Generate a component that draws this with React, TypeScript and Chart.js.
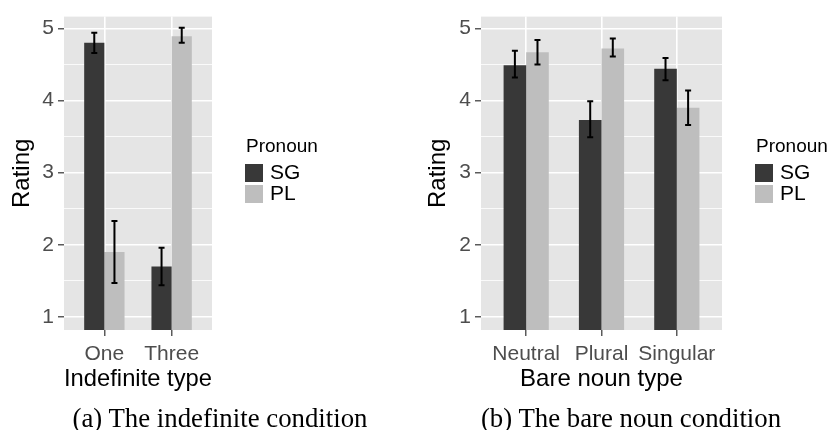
import React, { useEffect, useRef } from 'react';
import { Chart, registerables } from 'chart.js';

Chart.register(...registerables);

// ---- data ----
const pronouns = ['SG', 'PL'];

const indefCategories = ['One', 'Three'];
const indefSG = [4.8, 1.7];
const indefPL = [1.9, 4.89];
const indefSGLo = [4.66, 1.44];
const indefSGHi = [4.94, 1.96];
const indefPLLo = [1.47, 4.8];
const indefPLHi = [2.33, 5.01];

const bareCategories = ['Neutral', 'Plural', 'Singular'];
const bareSG = [4.49, 3.73, 4.44];
const barePL = [4.67, 4.72, 3.9];
const bareSGLo = [4.32, 3.49, 4.28];
const bareSGHi = [4.69, 3.99, 4.59];
const barePLLo = [4.5, 4.61, 3.66];
const barePLHi = [4.84, 4.86, 4.14];

const yTickValues = [1, 1.5, 2, 2.5, 3, 3.5, 4, 4.5, 5];
const yMin = 0.818;
const yMax = 5.164;

const SANS = "'Liberation Sans', Arial, sans-serif";
const SERIF = "'Liberation Serif', 'Times New Roman', serif";
const SG_COLOR = '#383838';
const PL_COLOR = '#bebebe';

const panelBg = {
  id: 'panelBg',
  beforeDraw(chart: any) {
    const { ctx, chartArea } = chart;
    ctx.save();
    ctx.fillStyle = '#e5e5e5';
    ctx.fillRect(chartArea.left, chartArea.top, chartArea.right - chartArea.left, chartArea.bottom - chartArea.top);
    ctx.restore();
  },
};

const errorBars = {
  id: 'errorBars',
  afterDatasetsDraw(chart: any) {
    const { ctx } = chart;
    const yScale = chart.scales.y;
    ctx.save();
    ctx.strokeStyle = '#000';
    ctx.lineWidth = 2;
    chart.data.datasets.forEach((ds: any, i: number) => {
      const meta = chart.getDatasetMeta(i);
      meta.data.forEach((bar: any, j: number) => {
        const x = bar.x;
        const yLo = yScale.getPixelForValue(ds.errLo[j]);
        const yHi = yScale.getPixelForValue(ds.errHi[j]);
        const w = 3;
        ctx.beginPath();
        ctx.moveTo(x, yLo);
        ctx.lineTo(x, yHi);
        ctx.moveTo(x - w, yLo);
        ctx.lineTo(x + w, yLo);
        ctx.moveTo(x - w, yHi);
        ctx.lineTo(x + w, yHi);
        ctx.stroke();
      });
    });
    ctx.restore();
  },
};

const pronounLegend = {
  id: 'pronounLegend',
  afterDraw(chart: any, _args: any, opts: any) {
    const { ctx, chartArea } = chart;
    const x0 = chartArea.right + 33;
    ctx.save();
    ctx.fillStyle = '#000';
    ctx.textAlign = 'left';
    ctx.textBaseline = 'alphabetic';
    ctx.font = `19px ${SANS}`;
    ctx.fillText(opts.title, x0 + 1, 152);
    chart.data.datasets.forEach((ds: any, i: number) => {
      const y = 164 + i * 21;
      ctx.fillStyle = ds.backgroundColor;
      ctx.fillRect(x0, y, 18, 18);
      ctx.fillStyle = '#000';
      ctx.font = `21px ${SANS}`;
      ctx.textBaseline = 'middle';
      ctx.fillText(ds.label, x0 + 25, y + 9.5);
    });
    ctx.restore();
  },
};

type PanelProps = {
  categories: string[];
  sg: number[];
  pl: number[];
  sgLo: number[];
  sgHi: number[];
  plLo: number[];
  plHi: number[];
  xTitle: string;
  width: number;
  padLeft: number;
  padRight: number;
  yAxisWidth: number;
  left: number;
};

function Panel(p: PanelProps) {
  const ref = useRef<HTMLCanvasElement | null>(null);
  useEffect(() => {
    if (!ref.current) return;
    const n = p.categories.length;
    const chart = new Chart(ref.current, {
      type: 'bar',
      data: {
        datasets: [
          {
            label: pronouns[0],
            data: p.sg.map((v, i) => ({ x: i + 1, y: v })),
            backgroundColor: SG_COLOR,
            errLo: p.sgLo,
            errHi: p.sgHi,
          } as any,
          {
            label: pronouns[1],
            data: p.pl.map((v, i) => ({ x: i + 1, y: v })),
            backgroundColor: PL_COLOR,
            errLo: p.plLo,
            errHi: p.plHi,
          } as any,
        ],
      },
      options: {
        responsive: false,
        animation: false,
        events: [],
        categoryPercentage: 0.6,
        barPercentage: 1.0,
        layout: { padding: { top: 12, left: p.padLeft, right: p.padRight, bottom: 0 } },
        plugins: {
          legend: { display: false },
          tooltip: { enabled: false },
          pronounLegend: { title: 'Pronoun' },
        } as any,
        scales: {
          x: {
            type: 'linear',
            min: 0.4,
            max: n + 0.6,
            offset: false,
            afterBuildTicks: (scale: any) => {
              scale.ticks = p.categories.map((_, i) => ({ value: i + 1 }));
            },
            afterFit: (scale: any) => {
              scale.height = 100;
            },
            grid: {
              offset: false,
              color: '#ffffff',
              lineWidth: 1.6,
              drawTicks: true,
              tickLength: 6,
              tickColor: '#333333',
              tickWidth: 1.2,
            },
            border: { display: false },
            ticks: {
              autoSkip: false,
              maxRotation: 0,
              padding: 6,
              color: '#4d4d4d',
              font: { family: SANS, size: 21 },
              callback: (v: any) => p.categories[Math.round(Number(v)) - 1] ?? '',
            },
            title: {
              display: true,
              text: p.xTitle,
              color: '#000',
              font: { family: SANS, size: 24 },
              padding: { top: 0, bottom: 36 },
            },
          },
          y: {
            type: 'linear',
            min: yMin,
            max: yMax,
            afterBuildTicks: (scale: any) => {
              scale.ticks = yTickValues.map((v) => ({ value: v }));
            },
            afterFit: (scale: any) => {
              scale.width = p.yAxisWidth;
            },
            grid: {
              color: '#ffffff',
              lineWidth: (c: any) => (Number.isInteger(c.tick?.value) ? 1.6 : 0.8),
              drawTicks: true,
              tickLength: 6,
              tickWidth: 1.2,
              tickColor: (c: any) => (Number.isInteger(c.tick?.value) ? '#333333' : 'rgba(0,0,0,0)'),
            },
            border: { display: false },
            ticks: {
              autoSkip: false,
              padding: 4,
              color: '#4d4d4d',
              font: { family: SANS, size: 21 },
              callback: (v: any) => (Number.isInteger(Number(v)) ? String(v) : ''),
            },
            title: {
              display: true,
              text: 'Rating',
              color: '#000',
              font: { family: SANS, size: 24 },
              padding: { top: 8, bottom: 0 },
            },
          },
        },
      } as any,
      plugins: [panelBg, errorBars, pronounLegend],
    });
    return () => chart.destroy();
  }, []);
  return (
    <canvas
      ref={ref}
      width={p.width}
      height={430}
      style={{ position: 'absolute', left: p.left, top: 0, width: p.width, height: 430 }}
    />
  );
}

const captionStyle: React.CSSProperties = {
  position: 'absolute',
  top: 403,
  height: 30,
  lineHeight: '30px',
  width: 400,
  textAlign: 'center',
  fontFamily: SERIF,
  fontSize: 26.8,
  color: '#000',
  whiteSpace: 'nowrap',
};

export default function App() {
  return (
    <div
      style={{
        position: 'absolute',
        left: 0,
        top: 0,
        width: 830,
        height: 430,
        overflow: 'hidden',
        background: '#fff',
      }}
    >
      <Panel
        categories={indefCategories}
        sg={indefSG}
        pl={indefPL}
        sgLo={indefSGLo}
        sgHi={indefSGHi}
        plLo={indefPLLo}
        plHi={indefPLHi}
        xTitle="Indefinite type"
        width={400}
        left={0}
        padLeft={0}
        padRight={188}
        yAxisWidth={64}
      />
      <Panel
        categories={bareCategories}
        sg={bareSG}
        pl={barePL}
        sgLo={bareSGLo}
        sgHi={bareSGHi}
        plLo={barePLLo}
        plHi={barePLHi}
        xTitle="Bare noun type"
        width={430}
        left={400}
        padLeft={16}
        padRight={108}
        yAxisWidth={65}
      />
      <div style={{ ...captionStyle, left: 220 - 200 }}>(a) The indefinite condition</div>
      <div style={{ ...captionStyle, left: 631 - 200 }}>(b) The bare noun condition</div>
    </div>
  );
}
